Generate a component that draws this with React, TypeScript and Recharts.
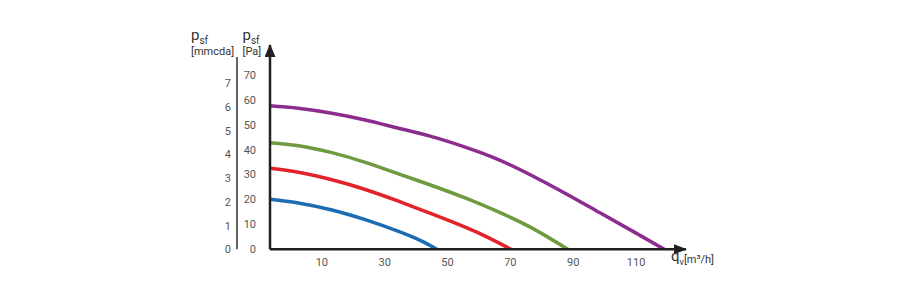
import React from 'react';
import { LineChart, Line, XAxis, YAxis, Label } from 'recharts';

// q_v [m³/h] vs p_sf [Pa] for four fan speeds
const blueCurve = [
  { q: -6.5, p: 20.1 }, { q: 2.5, p: 18.6 }, { q: 13.2, p: 15.8 }, { q: 23.8, p: 11.9 },
  { q: 34.4, p: 7.2 }, { q: 41.8, p: 3.3 }, { q: 46.6, p: 0 },
];
const redCurve = [
  { q: -6.5, p: 32.5 }, { q: 2.5, p: 30.9 }, { q: 13.2, p: 27.9 }, { q: 23.8, p: 24.0 },
  { q: 34.4, p: 19.3 }, { q: 45.0, p: 14.2 }, { q: 55.6, p: 8.9 }, { q: 63.5, p: 4.4 }, { q: 70.2, p: 0 },
];
const greenCurve = [
  { q: -6.5, p: 42.8 }, { q: 2.5, p: 41.6 }, { q: 13.2, p: 38.8 }, { q: 23.8, p: 34.9 },
  { q: 34.4, p: 30.3 }, { q: 45.0, p: 25.6 }, { q: 55.6, p: 20.6 }, { q: 66.2, p: 15.0 },
  { q: 76.8, p: 8.6 }, { q: 88.3, p: 0 },
];
const purpleCurve = [
  { q: -6.5, p: 57.6 }, { q: 2.5, p: 56.6 }, { q: 13.2, p: 54.6 }, { q: 23.8, p: 51.9 },
  { q: 34.4, p: 48.6 }, { q: 45.0, p: 45.2 }, { q: 55.6, p: 41.0 }, { q: 66.2, p: 36.0 },
  { q: 76.8, p: 29.6 }, { q: 87.4, p: 22.5 }, { q: 98.0, p: 15.0 }, { q: 108.6, p: 7.5 },
  { q: 119.0, p: 0 },
];

const xTicks = [10, 30, 50, 70, 90, 110];
const paTicks = [0, 10, 20, 30, 40, 50, 60, 70];
const mmTicks = [0, 1, 2, 3, 4, 5, 6, 7];

const FONT = 'Roboto, "DejaVu Sans", sans-serif';
const TICK_COLOR = '#555';
const AXIS_COLOR = '#231f20';

const PTitle = ({ viewBox, dx, unit }: any) => {
  const { x, y } = viewBox;
  return (
    <g fontFamily={FONT} fill="#333">
      <text x={x + dx} y={y - 5} fontSize={15}>
        p<tspan fontSize={10} dy={3.5}>sf</tspan>
      </text>
      <text x={x + dx} y={y + 9.5} fontSize={11}>{unit}</text>
    </g>
  );
};

const QTitle = ({ viewBox }: any) => {
  const { x, y, width } = viewBox;
  return (
    <text x={x + width - 15} y={y + 11.5} fontSize={15} fontFamily={FONT} fill="#333">
      q<tspan fontSize={9} dy={4}>v</tspan>
      <tspan fontSize={11} dy={-2}>[m³/h]</tspan>
    </text>
  );
};

export default function App() {
  return (
    <div style={{ position: 'absolute', left: 0, top: 0, width: 910, height: 300, background: '#fff' }}>
      <LineChart width={910} height={300} margin={{ top: 45, right: 224, bottom: 20.7, left: 197 }}>
        <defs>
          <marker id="arrowX" markerUnits="userSpaceOnUse" markerWidth={13} markerHeight={10}
            viewBox="0 0 13 10" refX={12} refY={5} orient="auto">
            <path d="M0,0 L13,5 L0,10 z" fill={AXIS_COLOR} />
          </marker>
          <marker id="arrowY" markerUnits="userSpaceOnUse" markerWidth={13} markerHeight={11}
            viewBox="0 0 13 11" refX={12} refY={5.5} orient="auto-start-reverse">
            <path d="M0,0 L13,5.5 L0,11 z" fill={AXIS_COLOR} />
          </marker>
        </defs>
        <XAxis
          dataKey="q"
          type="number"
          domain={[-6.5, 125.9]}
          ticks={xTicks}
          allowDataOverflow
          height={30}
          tickSize={0}
          tickMargin={9}
          tick={{ fill: TICK_COLOR, fontSize: 11, fontFamily: FONT }}
          axisLine={{ stroke: AXIS_COLOR, strokeWidth: 2.5, markerEnd: 'url(#arrowX)' }}
        >
          <Label content={<QTitle />} />
        </XAxis>
        <YAxis
          yAxisId="a_pa"
          type="number"
          domain={[0, 82]}
          ticks={paTicks}
          allowDataOverflow
          width={33}
          tickSize={0}
          tickMargin={14}
          tick={{ fill: TICK_COLOR, fontSize: 11, fontFamily: FONT }}
          axisLine={{ stroke: AXIS_COLOR, strokeWidth: 2.5, markerStart: 'url(#arrowY)' }}
        >
          <Label content={<PTitle dx={5.5} unit="[Pa]" />} />
        </YAxis>
        <YAxis
          yAxisId="b_mm"
          type="number"
          domain={[0, 8.62]}
          ticks={mmTicks}
          allowDataOverflow
          width={40}
          tickSize={0}
          tickMargin={6}
          tick={{ fill: TICK_COLOR, fontSize: 11, fontFamily: FONT }}
          axisLine={{ stroke: '#333', strokeWidth: 1.5, strokeDasharray: '0 12 300' }}
        >
          <Label content={<PTitle dx={-6} unit="[mmcda]" />} />
        </YAxis>
        <Line yAxisId="a_pa" data={blueCurve} dataKey="p" type="natural" stroke="#1b6cb3" strokeWidth={3.5} dot={false} isAnimationActive={false} />
        <Line yAxisId="a_pa" data={redCurve} dataKey="p" type="natural" stroke="#e3232b" strokeWidth={3.5} dot={false} isAnimationActive={false} />
        <Line yAxisId="a_pa" data={greenCurve} dataKey="p" type="natural" stroke="#6f9a3f" strokeWidth={3.5} dot={false} isAnimationActive={false} />
        <Line yAxisId="a_pa" data={purpleCurve} dataKey="p" type="natural" stroke="#8b2c8e" strokeWidth={3.5} dot={false} isAnimationActive={false} />
      </LineChart>
    </div>
  );
}
